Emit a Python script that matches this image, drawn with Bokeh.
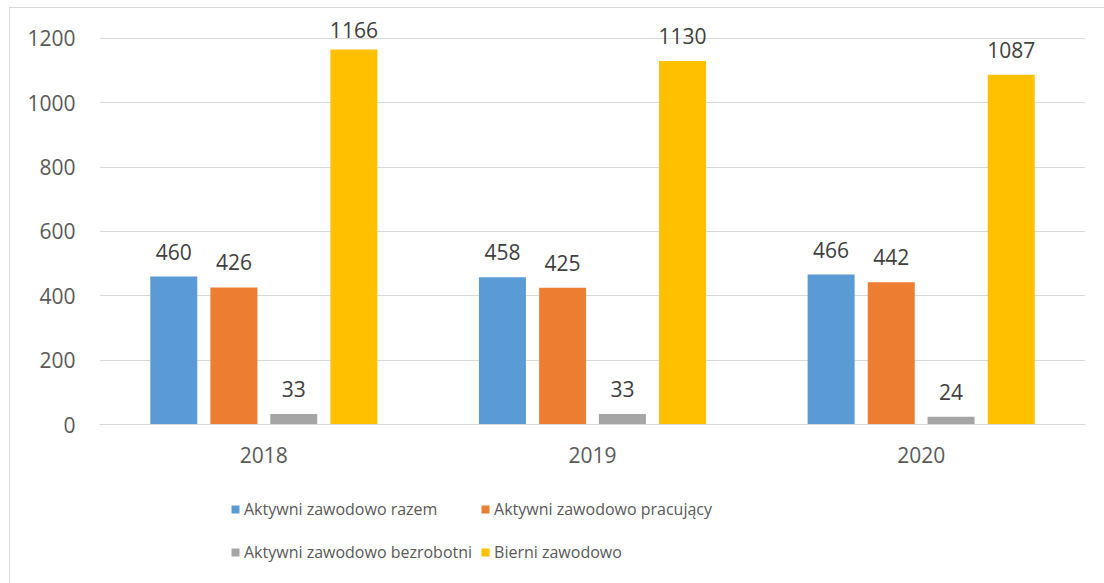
from bokeh.plotting import figure
from bokeh.models import ColumnDataSource, Range1d, Legend, LegendItem, FixedTicker
from bokeh.layouts import column
from bokeh.transform import dodge
from bokeh.core.properties import value
from bokeh.embed import file_html
from bokeh.resources import INLINE

years = ["2018", "2019", "2020"]
series_names = ["Aktywni zawodowo razem", "Aktywni zawodowo pracujący",
                "Aktywni zawodowo bezrobotni", "Bierni zawodowo"]
razem = [460, 458, 466]
pracujacy = [426, 425, 442]
bezrobotni = [33, 33, 24]
bierni = [1166, 1130, 1087]
y_ticks = [0, 200, 400, 600, 800, 1000, 1200]

colors = ["#5B9BD5", "#ED7D31", "#A5A5A5", "#FFC000"]
offsets = [-0.274, -0.091, 0.091, 0.274]
series = [razem, pracujacy, bezrobotni, bierni]

FONT = "Open Sans"
Y_MAX = 1277.7
FRAME_H = 411  # px
PX_PER_UNIT = FRAME_H / Y_MAX
LABEL_GAP = 25        # label centre above the bar top, px
LABEL_MAX_RISE = 395  # labels are kept inside the chart area (px above zero)

p = figure(x_range=years, y_range=Range1d(0, Y_MAX), width=1095, height=470,
           output_backend="svg", toolbar_location=None,
           min_border_left=89, min_border_right=20, min_border_top=5, min_border_bottom=54)
p.outline_line_color = None

for vals, col, off, name in zip(series, colors, offsets, series_names):
    yoffs = []
    for v in vals:
        rise = v * PX_PER_UNIT + LABEL_GAP
        yoffs.append(-(LABEL_GAP - max(0.0, rise - LABEL_MAX_RISE)))
    src = ColumnDataSource(dict(x=years, top=vals, lab=[str(v) for v in vals], yo=yoffs))
    p.vbar(x=dodge("x", off, range=p.x_range), top="top", width=0.143, source=src,
           fill_color=col, line_color=None)
    p.text(x=dodge("x", off, range=p.x_range), y="top", text="lab", source=src,
           text_align="center", text_baseline="middle", y_offset="yo",
           text_font=value(FONT), text_font_size="21px", text_color="#404040")

p.yaxis.ticker = FixedTicker(ticks=y_ticks)
p.ygrid.grid_line_color = "#d9d9d9"
p.ygrid.grid_line_width = 1
p.xgrid.grid_line_color = None

for ax in (p.xaxis[0], p.yaxis[0]):
    ax.major_tick_line_color = None
    ax.minor_tick_line_color = None
    ax.major_label_text_font = FONT
    ax.major_label_text_font_size = "21px"
    ax.major_label_text_color = "#595959"
p.yaxis.axis_line_color = None
p.xaxis.axis_line_color = "#d9d9d9"
p.yaxis.major_label_standoff = 18
p.xaxis.major_label_standoff = 16

# legend figure
q = figure(x_range=Range1d(0, 1), y_range=Range1d(0, 1), width=1095, height=106,
           output_backend="svg", toolbar_location=None,
           x_axis_location=None, y_axis_location=None,
           min_border_left=0, min_border_right=0, min_border_top=0, min_border_bottom=0)
q.outline_line_color = None
q.grid.visible = False
leg_renderers = []
for col in colors:
    r = q.vbar(x=[0.5], top=[0], bottom=[0], width=0.0, fill_color=col, line_color=None)
    leg_renderers.append(r)

items = [LegendItem(label=series_names[i], renderers=[leg_renderers[i]]) for i in range(4)]
leg = Legend(items=items, location=(131, 15), orientation="horizontal", ncols=2,
             padding=0, margin=0, spacing=8, label_height=35,
             glyph_width=10, glyph_height=10, label_standoff=4,
             border_line_color=None, background_fill_alpha=0,
             label_text_font=FONT, label_text_font_size="16px",
             label_text_color="#595959")
q.add_layout(leg, "center")

layout = column(p, q, spacing=0)
layout.styles = {"margin-left": "9px", "margin-top": "7px",
                 "border-left": "1px solid #d9d9d9", "border-top": "1px solid #d9d9d9"}

open("out.html", "w").write(file_html(layout, INLINE))
